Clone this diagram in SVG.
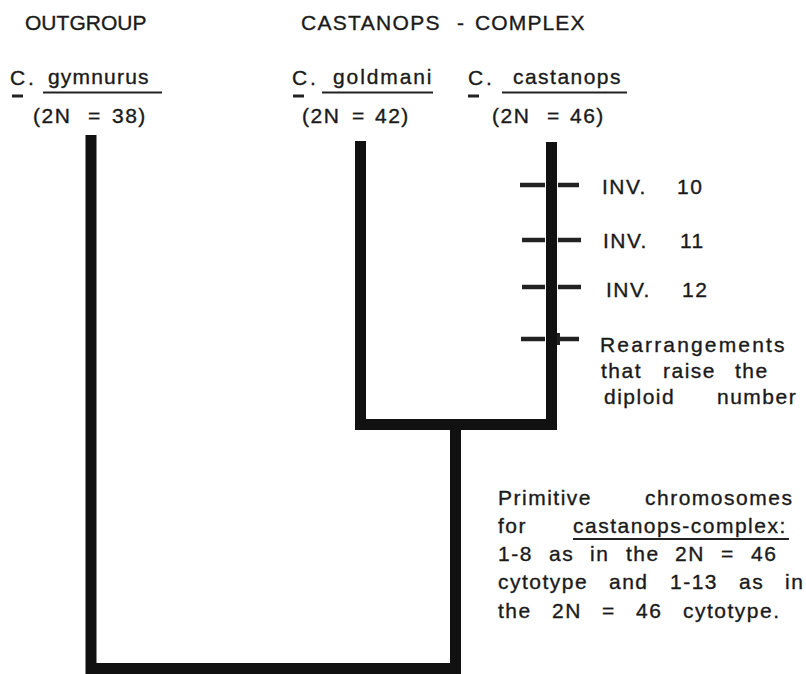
<svg xmlns="http://www.w3.org/2000/svg" width="806" height="674" viewBox="0 0 806 674">
<style>
.t{font-family:"Liberation Sans",Arial,sans-serif;font-size:21px;fill:#1a1a1a;stroke:#1a1a1a;stroke-width:0.35px;letter-spacing:1.5px}
.h{letter-spacing:0.5px}
.ul{stroke:#222;stroke-width:2}
.cu{stroke:#222;stroke-width:3}
.br{fill:none;stroke:#111;stroke-width:11;stroke-linejoin:miter;stroke-linecap:butt}
.tk{stroke:#222;stroke-width:4.5}
</style>
<rect width="806" height="674" fill="#fff"/>
<g id="headers">
<text class="t h" x="25" y="30" textLength="122" lengthAdjust="spacing">OUTGROUP</text>
<text class="t h" x="301" y="30" textLength="139" lengthAdjust="spacing">CASTANOPS</text>
<text class="t h" x="457" y="30">-</text>
<text class="t h" x="475" y="30" textLength="110" lengthAdjust="spacing">COMPLEX</text>
</g>
<g id="node-gymnurus">
<text class="t" x="10" y="85">C<tspan x="28">.</tspan></text>
<line class="cu" x1="12" y1="96" x2="23" y2="96"/>
<text class="t" x="48" y="84" textLength="102" lengthAdjust="spacing">gymnurus</text>
<line class="ul" x1="43" y1="92.5" x2="162" y2="92.5"/>
<text class="t" x="33" y="123">(2N<tspan x="88">=</tspan><tspan x="112">38)</tspan></text>
</g>
<g id="node-goldmani">
<text class="t" x="292" y="85">C<tspan x="310">.</tspan></text>
<line class="cu" x1="293" y1="96" x2="304" y2="96"/>
<text class="t" x="333" y="84" textLength="100" lengthAdjust="spacing">goldmani</text>
<line class="ul" x1="322" y1="92.5" x2="433" y2="92.5"/>
<text class="t" x="302" y="123">(2N<tspan x="352">=</tspan><tspan x="375">42)</tspan></text>
</g>
<g id="node-castanops">
<text class="t" x="468" y="85">C<tspan x="486">.</tspan></text>
<line class="cu" x1="468" y1="96" x2="479" y2="96"/>
<text class="t" x="513" y="84" textLength="109" lengthAdjust="spacing">castanops</text>
<line class="ul" x1="502" y1="92.5" x2="627" y2="92.5"/>
<text class="t" x="492" y="123">(2N<tspan x="547">=</tspan><tspan x="570">46)</tspan></text>
</g>
<g id="connectors">
<line class="tk" x1="520" y1="185" x2="545" y2="185"/>
<line class="tk" x1="558" y1="185" x2="579" y2="185"/>
<line class="tk" x1="522" y1="240" x2="545" y2="240"/>
<line class="tk" x1="558" y1="240" x2="581" y2="240"/>
<line class="tk" x1="522" y1="287" x2="545" y2="287"/>
<line class="tk" x1="558" y1="287" x2="581" y2="287"/>
<line class="tk" x1="521" y1="339" x2="545" y2="339"/>
<line class="tk" x1="558" y1="339" x2="579" y2="339"/>
<rect x="557" y="333" width="3" height="12" fill="#222"/>
<path class="br" d="M91 135 V668.5 H455.5 V424.5"/>
<path class="br" d="M360.5 141 V424.5 H551.5 V142"/>
</g>
<g id="label-inv10">
<text class="t" x="602" y="194">INV.<tspan x="677">10</tspan></text>
</g>
<g id="label-inv11">
<text class="t" x="603" y="248">INV.<tspan x="680">11</tspan></text>
</g>
<g id="label-inv12">
<text class="t" x="606" y="297">INV.<tspan x="682">12</tspan></text>
</g>
<g id="label-rearrangements">
<text class="t" x="600" y="352" textLength="186" lengthAdjust="spacing">Rearrangements</text>
<text class="t" x="601" y="378">that<tspan x="663">raise</tspan><tspan x="735">the</tspan></text>
<text class="t" x="604" y="404">diploid<tspan x="717">number</tspan></text>
</g>
<g id="label-primitive">
<text class="t" x="498" y="505">Primitive<tspan x="645">chromosomes</tspan></text>
<text class="t" x="498" y="533">for<tspan x="573">castanops-complex:</tspan></text>
<line class="ul" x1="573" y1="539" x2="789" y2="539"/>
<text class="t" x="498" y="561">1-8<tspan x="549">as</tspan><tspan x="590">in</tspan><tspan x="626">the</tspan><tspan x="675">2N</tspan><tspan x="721">=</tspan><tspan x="751">46</tspan></text>
<text class="t" x="498" y="589">cytotype<tspan x="609">and</tspan><tspan x="670">1-13</tspan><tspan x="739">as</tspan><tspan x="785">in</tspan></text>
<text class="t" x="498" y="618">the<tspan x="552">2N</tspan><tspan x="602">=</tspan><tspan x="636">46</tspan><tspan x="683">cytotype.</tspan></text>
</g>
</svg>
